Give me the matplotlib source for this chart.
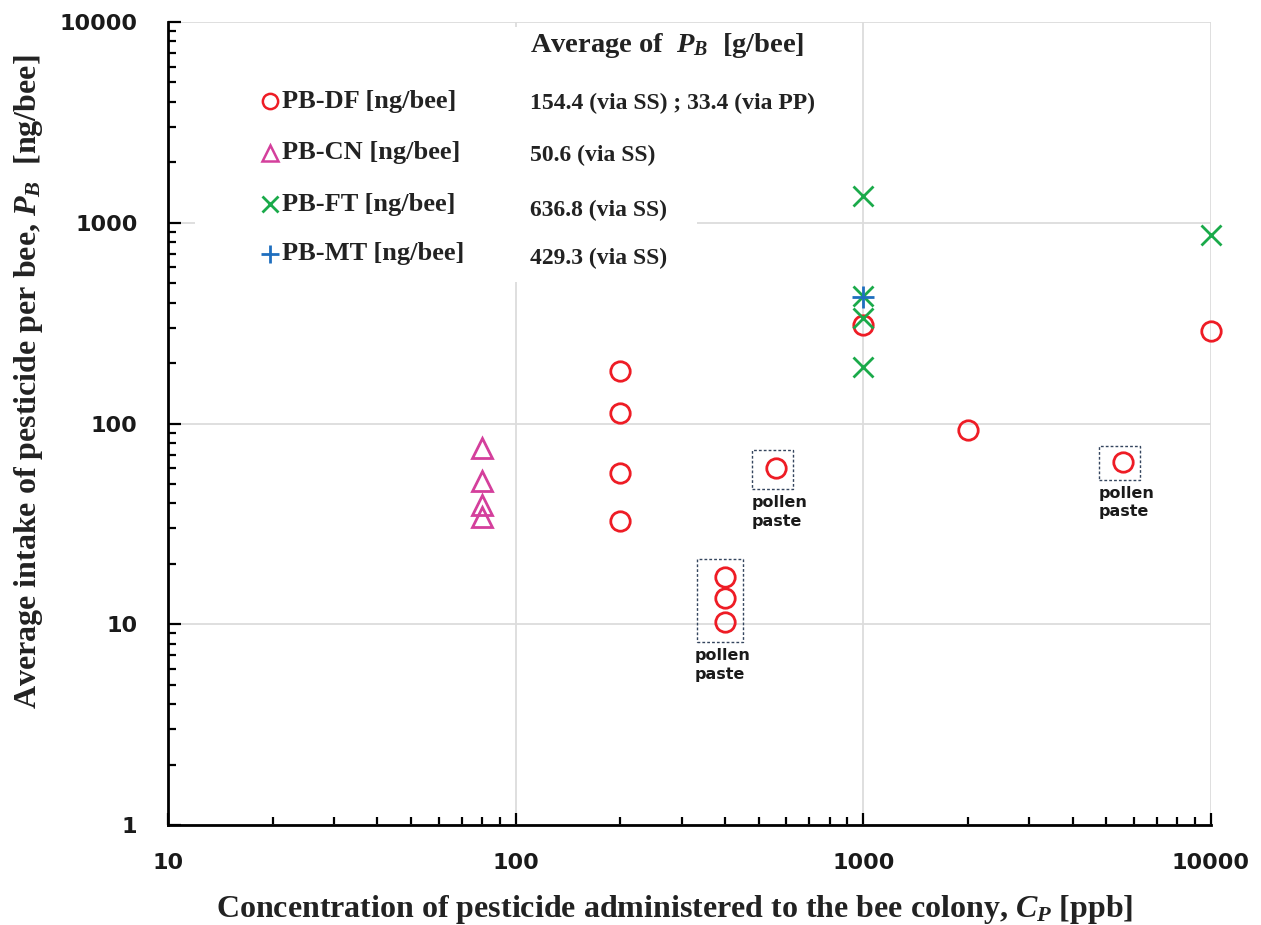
import matplotlib
matplotlib.use('Agg')
import numpy as np
import matplotlib.pyplot as plt
from matplotlib.patches import Rectangle

plt.rcParams['mathtext.fontset'] = 'custom'
plt.rcParams['mathtext.rm'] = 'Liberation Serif:bold'
plt.rcParams['mathtext.it'] = 'Liberation Serif:italic:bold'
plt.rcParams['mathtext.bf'] = 'Liberation Serif:bold'

# data
df_x = [200, 200, 200, 200, 400, 400, 400, 560, 1000, 2000, 5600, 10000]
df_y = [183, 113, 56.7, 32.7, 17.2, 13.5, 10.3, 60.1, 310, 92.9, 64.4, 289]
cn_x = [80, 80, 80, 80]
cn_y = [75.5, 51.8, 39.3, 34.2]
ft_x = [1000, 1000, 1000, 1000, 10000]
ft_y = [1361, 432, 336, 191, 870]
mt_x = [1000]
mt_y = [429]

labels = ['PB-DF [ng/bee]', 'PB-CN [ng/bee]', 'PB-FT [ng/bee]', 'PB-MT [ng/bee]']
averages = ['154.4 (via SS) ; 33.4 (via PP)', '50.6 (via SS)', '636.8 (via SS)', '429.3 (via SS)']
tick_vals = [10, 100, 1000, 10000]
ytick_vals = [1, 10, 100, 1000, 10000]

red = '#ee1c25'
pink = '#d43f9c'
green = '#1aaa4a'
blue = '#1f6fbf'

fig = plt.figure(figsize=(12.61, 9.25), dpi=100)
ax = fig.add_axes([168/1261, 1-825/925, 1043/1261, 803/925])
ax.set_xscale('log')
ax.set_yscale('log')
ax.set_xlim(10, 10000)
ax.set_ylim(1, 10000)

ax.grid(which='major', color='#dcdcdc', lw=1.3, zorder=0)
ax.set_axisbelow(True)

# white box behind the legend text
ax.add_patch(Rectangle((0.026, 0.676), 0.481, 0.318, transform=ax.transAxes,
                       facecolor='white', edgecolor='none', zorder=1))

ms = 14
ax.plot(df_x, df_y, 'o', ms=ms, mfc='none', mec=red, mew=2, zorder=3, clip_on=False)
ax.plot(cn_x, cn_y, '^', ms=ms, mfc='none', mec=pink, mew=2, zorder=3, clip_on=False)
ax.plot(ft_x, ft_y, 'x', ms=ms, mec=green, mew=2, zorder=3, clip_on=False)
ax.plot(mt_x, mt_y, '+', ms=ms + 2, mec=blue, mew=2, zorder=4, clip_on=False)

# dashed boxes around pollen paste points
boxes = [((332, 8.16), (451, 21.2)), ((479, 47.2), (628, 73.9)), ((4764, 52.4), (6255, 77.3))]
for (xa, ya), (xb, yb) in boxes:
    ax.add_patch(Rectangle((xa, ya), xb - xa, yb - ya, fill=False, edgecolor='#34455e',
                           lw=1, ls=(0, (2, 1.5)), zorder=2))
for tx, ty in [(328, 7.6), (476, 44.0), (4740, 49.0)]:
    ax.text(tx, ty, 'pollen\npaste', fontsize=11.5, fontweight='heavy', family='DejaVu Sans',
            va='top', ha='left', linespacing=1.3, color='#1a1a1a', zorder=3)

# legend (manual)
rows = [0.9016, 0.8369, 0.7733, 0.7111]
markers = [('o', red, 11), ('^', pink, 12), ('x', green, 11), ('+', blue, 13)]
for yy, (m, c, s), lab in zip(rows, markers, labels):
    if m in ('x', '+'):
        ax.plot([0.0978], [yy], m, ms=s, mec=c, mew=2, transform=ax.transAxes, zorder=5, clip_on=False)
    else:
        ax.plot([0.0978], [yy], m, ms=s, mfc='none', mec=c, mew=1.8, transform=ax.transAxes,
                zorder=5, clip_on=False)
    ax.text(0.1095, yy, lab, transform=ax.transAxes, fontsize=19, family='Liberation Serif',
            fontweight='bold', va='center', ha='left', color='#222222', zorder=5)

val_rows = [0.899, 0.834, 0.765, 0.705]
for yy, v in zip(val_rows, averages):
    ax.text(0.347, yy, v, transform=ax.transAxes, fontsize=17, family='Liberation Serif',
            fontweight='bold', va='center', ha='left', color='#222222', zorder=5)
ax.text(0.347, 0.971, r'Average of  $P_B$  [g/bee]', transform=ax.transAxes, fontsize=20.5,
        family='Liberation Serif', fontweight='bold', va='center', ha='left', color='#222222', zorder=5)

# axes styling
for s in ['top', 'right']:
    ax.spines[s].set_visible(False)
for s in ['left', 'bottom']:
    ax.spines[s].set_linewidth(2)
ax.tick_params(which='major', direction='in', length=9, width=1.6)
ax.tick_params(which='minor', direction='in', length=6, width=1.6)
ax.tick_params(axis='y', which='major', pad=22)
ax.tick_params(axis='x', which='major', pad=20)
ax.set_xticks(tick_vals)
ax.set_xticklabels([str(v) for v in tick_vals])
ax.set_yticks(ytick_vals)
ax.set_yticklabels([str(v) for v in ytick_vals])
for lbl in ax.get_xticklabels() + ax.get_yticklabels():
    lbl.set_fontsize(16)
    lbl.set_fontweight('heavy')
    lbl.set_family('DejaVu Sans')
    lbl.set_color('#1a1a1a')

ax.set_xlabel(r'Concentration of pesticide administered to the bee colony, $C_P$ [ppb]',
              fontsize=23, family='Liberation Serif', fontweight='bold', color='#222222')
ax.set_ylabel(r'Average intake of pesticide per bee, $P_B$  [ng/bee]',
              fontsize=23, family='Liberation Serif', fontweight='bold', color='#222222')
ax.xaxis.set_label_coords(0.486, -0.085)
ax.yaxis.set_label_coords(-0.118, 0.552)

fig.savefig('out.png', dpi=100)
